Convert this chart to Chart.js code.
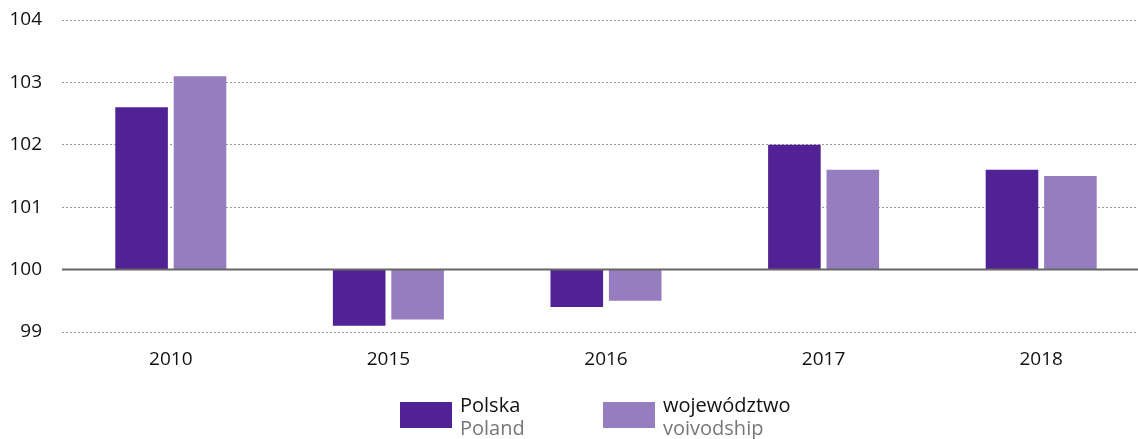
<!DOCTYPE html>
<html>
<head>
<meta charset="utf-8">
<script src="https://cdn.jsdelivr.net/npm/chart.js@4/dist/chart.umd.min.js"></script>
<style>
  body { margin: 0; background: #fff; font-family: "Open Sans", sans-serif; }
  #wrap { position: relative; width: 1138px; height: 439px; overflow: hidden; }
  #box { position: absolute; left: 0; top: 0; width: 1150px; height: 400px; }
  .leg { position: absolute; top: 393px; display: flex; align-items: flex-start; }
  .sw { width: 52px; height: 26px; margin-top: 9px; margin-right: 8px; }
  .lt { font-size: 20px; line-height: 23px; color: #111; }
  .lt span { display: block; color: #777; }
</style>
</head>
<body>
<div id="wrap">
  <div id="box"><canvas id="chart"></canvas></div>
  <div id="legend"></div>
</div>
<script>
// data
const years = ['2010', '2015', '2016', '2017', '2018'];
const polska = [102.6, 99.1, 99.4, 102.0, 101.6];
const wojewodztwo = [103.1, 99.2, 99.5, 101.6, 101.5];
const seriesNames = ['Polska', 'województwo'];
const seriesNamesEn = ['Poland', 'voivodship'];
const seriesColors = ['#512295', '#967dbf'];
const yTicks = [99, 100, 101, 102, 103, 104];

// solid line at the 100 base
const baseLine = {
  id: 'baseLine',
  afterDatasetsDraw(chart) {
    const y = chart.scales.y.getPixelForValue(100);
    const ctx = chart.ctx;
    ctx.save();
    ctx.strokeStyle = '#666';
    ctx.lineWidth = 2;
    ctx.beginPath();
    ctx.moveTo(chart.chartArea.left, y);
    ctx.lineTo(chart.chartArea.right, y);
    ctx.stroke();
    ctx.restore();
  }
};

const chart = new Chart(document.getElementById('chart'), {
  type: 'bar',
  data: {
    labels: years,
    datasets: [
      { label: seriesNames[0], data: polska, backgroundColor: seriesColors[0] },
      { label: seriesNames[1], data: wojewodztwo, backgroundColor: seriesColors[1] }
    ]
  },
  options: {
    responsive: true,
    maintainAspectRatio: false,
    animation: false,
    base: 100,
    categoryPercentage: 0.537,
    barPercentage: 0.9,
    layout: { padding: { top: 20, right: 0, bottom: 18, left: 0 } },
    plugins: { legend: { display: false }, tooltip: { enabled: false } },
    scales: {
      x: {
        grid: { display: false, drawTicks: false },
        border: { display: false },
        afterFit: (s) => { s.height = 50; },
        ticks: { color: '#111', padding: 16, maxRotation: 0, font: { family: 'Open Sans', size: 19 } }
      },
      y: {
        min: 99,
        max: 104,
        afterBuildTicks: (s) => { s.ticks = yTicks.map(v => ({ value: v })); },
        afterFit: (s) => { s.width = 62; s.paddingTop = 0; s.paddingBottom = 0; },
        grid: {
          drawTicks: false,
          color: (c) => c.tick && c.tick.value === 100 ? 'rgba(0,0,0,0)' : '#9a9a9a',
          lineWidth: 1
        },
        border: { display: false, dash: [2, 2] },
        ticks: { color: '#111', padding: 20, font: { family: 'Open Sans', size: 19 } }
      }
    }
  },
  plugins: [baseLine]
});

// legend
const legendLeft = [400, 603];
const legend = document.getElementById('legend');
seriesNames.forEach((name, i) => {
  const item = document.createElement('div');
  item.className = 'leg';
  item.style.left = legendLeft[i] + 'px';
  item.innerHTML = '<div class="sw" style="background:' + seriesColors[i] + '"></div>' +
    '<div class="lt">' + name + '<span>' + seriesNamesEn[i] + '</span></div>';
  legend.appendChild(item);
});
</script>
</body>
</html>
